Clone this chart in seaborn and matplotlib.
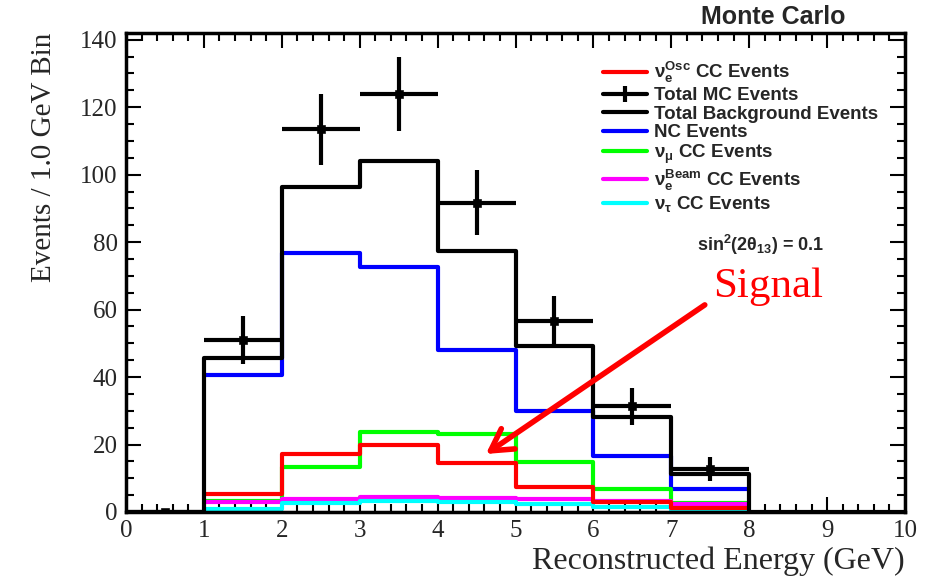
import numpy as np
import pandas as pd
import matplotlib
matplotlib.use("Agg")
import matplotlib.pyplot as plt
import seaborn as sns
from matplotlib.lines import Line2D
from matplotlib.ticker import MultipleLocator
from matplotlib.patches import ArrowStyle

# ---------------- data ----------------
bin_edges = [1, 2, 3, 4, 5, 6, 7, 8]
bin_centers = [1.5, 2.5, 3.5, 4.5, 5.5, 6.5, 7.5]
nue_osc_cc = [5.3, 17.2, 20.0, 14.5, 7.3, 3.0, 1.3]
total_bkg = [45.8, 96.2, 104.0, 77.3, 49.3, 28.3, 11.3]
nc_events = [40.7, 76.9, 72.5, 47.9, 30.0, 16.6, 6.7]
numu_cc = [3.4, 13.3, 23.7, 23.0, 14.8, 6.9, 2.8]
nue_beam_cc = [3.1, 3.8, 4.5, 4.2, 3.9, 3.2, 2.4]
nutau_cc = [0.8, 2.8, 3.4, 3.0, 2.4, 1.6, 0.6]

mc_centers = [0.5, 1.5, 2.5, 3.5, 4.5, 5.5, 6.5, 7.5]
total_mc = [0.0, 51.1, 113.4, 123.9, 91.7, 56.6, 31.3, 12.7]
total_mc_err = [0.0, 7.1, 10.6, 11.1, 9.6, 7.5, 5.6, 3.6]

full_edges = [0, 1, 2, 3, 4, 5, 6, 7, 8, 9, 10]
full_centers = [0.5] + bin_centers + [8.5, 9.5]
full_bkg = [0.0] + total_bkg + [0.0, 0.0]

legend_labels = [r"$\nu_e^{Osc}$ CC Events", "Total MC Events",
                 "Total Background Events", "NC Events",
                 r"$\nu_\mu$ CC Events", r"$\nu_e^{Beam}$ CC Events",
                 r"$\nu_\tau$ CC Events"]

# ---------------- style ----------------
sns.set_theme(style="white")
plt.rcParams["font.family"] = ["Liberation Serif", "DejaVu Serif"]
plt.rcParams["mathtext.fontset"] = "custom"
plt.rcParams["mathtext.rm"] = "Liberation Sans:bold"
plt.rcParams["mathtext.it"] = "Liberation Sans:bold"
plt.rcParams["mathtext.bf"] = "Liberation Sans:bold"
plt.rcParams["mathtext.sf"] = "Liberation Sans:bold"
plt.rcParams["mathtext.default"] = "rm"

fig = plt.figure(figsize=(9.3, 5.82), dpi=100)
ax = fig.add_axes([126 / 930, 1 - 512 / 582, (905 - 126) / 930, (512 - 33) / 582])

LW = 3.0
series = [
    (nc_events, "#0000ff", 2.1),
    (numu_cc, "#00ff00", 2.2),
    (nue_beam_cc, "#ff00ff", 2.3),
    (nutau_cc, "#00ffff", 2.4),
    (nue_osc_cc, "#ff0000", 2.5),
]
sns.histplot(x=full_centers, weights=full_bkg, bins=full_edges, element="step",
             fill=False, color="black", linewidth=LW, ax=ax, zorder=2.6)
for vals, col, z in series:
    sns.histplot(x=bin_centers, weights=vals, bins=bin_edges, element="step",
                 fill=False, color=col, linewidth=LW, ax=ax, zorder=z)

# Total MC points with error crosses
ax.errorbar(mc_centers, total_mc, yerr=total_mc_err, xerr=0.5, fmt="none",
            ecolor="black", elinewidth=3, capsize=0, zorder=3)
sns.scatterplot(x=mc_centers, y=total_mc, marker="s", s=30, color="black",
                edgecolor="black", ax=ax, zorder=3.1)

ax.set_xlim(0, 10)
ax.set_ylim(0, 142)

ax.xaxis.set_major_locator(MultipleLocator(1))
ax.xaxis.set_minor_locator(MultipleLocator(0.2))
ax.yaxis.set_major_locator(MultipleLocator(20))
ax.yaxis.set_minor_locator(MultipleLocator(5))
ax.tick_params(which="both", direction="in", top=True, right=True,
               bottom=True, left=True, color="black", width=1.5)
ax.tick_params(which="major", length=11, labelsize=18, pad=6)
ax.tick_params(which="minor", length=6)
for s in ax.spines.values():
    s.set_linewidth(2.5)
    s.set_color("black")
    s.set_zorder(5)

ax.set_xlabel("Reconstructed Energy (GeV)", fontsize=23, loc="right", labelpad=3)
ax.set_ylabel("Events / 1.0 GeV Bin", fontsize=21, loc="top", labelpad=17)

# Legend
handles = [
    Line2D([0], [0], color="#ff0000", lw=LW),
    Line2D([0], [0], color="black", lw=LW, marker="|", markersize=12, markeredgewidth=3),
    Line2D([0], [0], color="black", lw=LW),
    Line2D([0], [0], color="#0000ff", lw=LW),
    Line2D([0], [0], color="#00ff00", lw=LW),
    Line2D([0], [0], color="#ff00ff", lw=LW),
    Line2D([0], [0], color="#00ffff", lw=LW),
]
leg = ax.legend(handles, legend_labels, loc="upper left",
                bbox_to_anchor=(594 / 930, 1 - 51 / 582), bbox_transform=fig.transFigure,
                frameon=False, handlelength=2.3, handletextpad=0.4,
                labelspacing=0.08, borderpad=0.0,
                prop={"family": "Liberation Sans", "weight": "bold", "size": 13.5})

# Texts
fig.text(773 / 930, 1 - 17 / 582, "Monte Carlo", ha="center", va="center",
         fontsize=18, fontweight="bold", family="Liberation Sans")
fig.text(761 / 930, 1 - 245 / 582, r"$sin^2(2\theta_{13})$ = 0.1", ha="center",
         va="center", fontsize=13, fontweight="bold", family="Liberation Sans")
fig.text(768 / 930, 1 - 287 / 582, "Signal", ha="center", va="center",
         fontsize=31, color="#ff0000", family="Liberation Serif")

ax.annotate("", xy=(4.62, 17.2), xytext=(7.43, 61.4),
            arrowprops=dict(arrowstyle=ArrowStyle("->", head_length=0.7, head_width=0.4),
                            color="#ff0000", lw=4, mutation_scale=22,
                            shrinkA=0, shrinkB=0), zorder=6)

fig.savefig("out.png", dpi=100)
